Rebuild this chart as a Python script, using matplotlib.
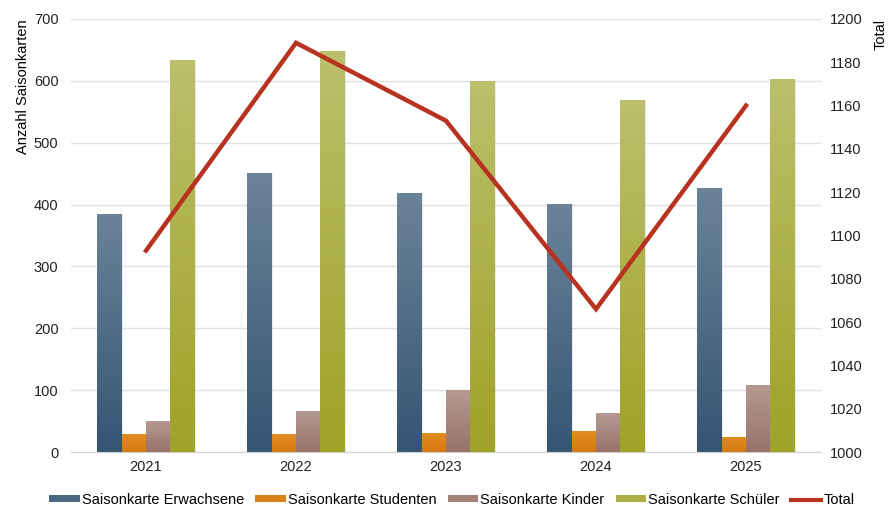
import numpy as np
import matplotlib.pyplot as plt
from matplotlib.colors import LinearSegmentedColormap
from matplotlib.patches import Patch
from matplotlib.lines import Line2D

plt.rcParams['font.family'] = ['Liberation Sans', 'DejaVu Sans']
plt.rcParams['font.size'] = 10.5

years = ['2021', '2022', '2023', '2024', '2025']
erwachsene = [385, 451, 419, 401, 427]
studenten = [29, 29, 31, 34, 24]
kinder = [50, 66, 100, 63, 108]
schueler = [634, 648, 600, 569, 603]
total = [1093, 1189, 1153, 1066, 1160]

series = [
    ('Saisonkarte Erwachsene', erwachsene, ('#6b8399', '#345573')),
    ('Saisonkarte Studenten', studenten, ('#e28e22', '#d7780f')),
    ('Saisonkarte Kinder', kinder, ('#b59a91', '#98716a')),
    ('Saisonkarte Schüler', schueler, ('#bcbf6c', '#9fa326')),
]

fig = plt.figure(figsize=(8.88, 5.14), dpi=100)
ax = fig.add_axes([71/888, 1 - 452/514, 750/888, 433/514])
ax2 = ax.twinx()

x = np.arange(len(years))
w = 0.1625
ax.set_xlim(-0.5, len(years) - 0.5)
ax.set_ylim(0, 700)

cmaps = []
for i, (name, vals, (ctop, cbot)) in enumerate(series):
    cmap = LinearSegmentedColormap.from_list(name, [cbot, ctop])
    cmaps.append(cmap)
    grad = np.linspace(0, 1, 256).reshape(-1, 1)
    bars = ax.bar(x + (i - 1.5) * w, vals, w, color=ctop, linewidth=0, zorder=2)
    for b in bars:
        x0 = b.get_x()
        im = ax.imshow(grad, cmap=cmap, origin='lower', aspect='auto',
                       extent=[x0, x0 + b.get_width(), 0, b.get_height()],
                       zorder=2.1)
        im.set_clip_path(b)
    # light shadow
    ax.bar(x + (i - 1.5) * w + 0.006, vals, w, color='#000000', alpha=0.08,
           linewidth=0, zorder=1.5)

ax.set_xlim(-0.5, len(years) - 0.5)
ax.set_ylim(0, 700)
ax.set_yticks(range(0, 701, 100))
ax.set_xticks(x)
ax.set_xticklabels(years)
ax.grid(axis='y', color='#e0e0e0', linewidth=1, zorder=0)
ax.set_axisbelow(True)
for s in ['top', 'right', 'left']:
    ax.spines[s].set_visible(False)
ax.spines['bottom'].set_color('#d0d0d0')
ax.tick_params(axis='y', length=0, pad=9, colors='#222222')
ax.tick_params(axis='x', length=0, pad=6, colors='#222222')
ax.set_ylabel('Anzahl Saisonkarten', loc='top', labelpad=3)

ax2.plot(x, total, color='#b83220', linewidth=3.2, solid_joinstyle='miter', zorder=5)
ax2.set_ylim(1000, 1200)
ax2.set_yticks(range(1000, 1201, 20))
for s in ['top', 'right', 'left', 'bottom']:
    ax2.spines[s].set_visible(False)
ax2.tick_params(axis='y', length=0, pad=6.5, colors='#222222')
ax2.set_ylabel('Total', loc='top', labelpad=8)

handles = [Patch(facecolor=cm(0.4), edgecolor='none', label=n)
           for (n, _, _), cm in zip(series, cmaps)]
handles.append(Line2D([0], [0], color='#b83220', linewidth=3, label='Total'))
fig.legend(handles=handles, loc='center', bbox_to_anchor=(0.509, 1 - 500/514),
           ncol=5, frameon=False, handlelength=2.1, handleheight=0.4,
           handletextpad=0.15, columnspacing=0.75, fontsize=10.5)

fig.savefig('out.png', dpi=100)
